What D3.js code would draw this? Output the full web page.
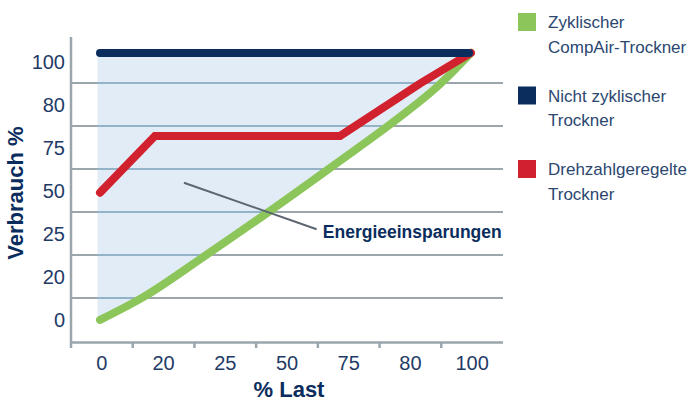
<!DOCTYPE html>
<html>
<head>
<meta charset="utf-8">
<script src="https://cdn.jsdelivr.net/npm/d3@7"></script>
<style>
  body { margin: 0; background: #fff; }
  text { font-family: "Liberation Sans", Arial, sans-serif; }
</style>
</head>
<body>
<div id="chart"></div>
<script>
// Achsenbeschriftungen (Kategorien)
const xLabels = ['0', '20', '25', '50', '75', '80', '100'];
const yLabels = ['0', '20', '25', '50', '75', '80', '100'];

// Kurven in Achseneinheiten (0..7 über die 7 Felder)
const greenX = [0.47, 1.17, 2.14, 3.18, 4.31, 5.33, 5.93, 6.48];
const greenY = [0.49, 1.02, 1.95, 2.98, 4.14, 5.21, 5.91, 6.70];
const redX = [0.47, 1.36, 4.36, 5.66, 6.48];
const redY = [3.45, 4.77, 4.77, 5.99, 6.70];
const navyX = [0.47, 6.45];
const navyY = [6.70, 6.70];

const legendItems = [
    {name: ['Zyklischer', 'CompAir-Trockner'], color: '#8cc65b'},
    {name: ['Nicht zyklischer', 'Trockner'], color: '#0b2d5e'},
    {name: ['Drehzahlgeregelte', 'Trockner'], color: '#d2212e'}
];

let width = 697;
let height = 401;
let textColor = '#1f3b66';
let gridColor = '#9ba5ac';

let svg = d3.select('#chart').append('svg')
    .attr('width', width)
    .attr('height', height);

const xBand = d3.scaleBand().domain(xLabels).range([71, 503]);
const yBand = d3.scaleBand().domain(yLabels).range([341, 40]);
const x = d3.scaleLinear().domain([0, 7]).range([71, 503]);
const y = d3.scaleLinear().domain([0, 7]).range([341, 40]);

const zip = (xs, ys) => xs.map((v, i) => [v, ys[i]]);
let green = zip(greenX, greenY);
let red = zip(redX, redY);
let navy = zip(navyX, navyY);

// Fläche Energieeinsparung
let area = d3.area()
    .x(d => x(d[0]))
    .y0(d => y(d[1]))
    .y1(y(navyY[0]))
    .curve(d3.curveMonotoneX);

let areaData = [[0.43, greenY[0]]].concat(green);

svg.append('defs').append('clipPath')
    .attr('id', 'savingClip')
    .append('path')
    .attr('d', area(areaData));

svg.append('path')
    .attr('d', area(areaData))
    .attr('fill', '#e2ecf7');

// Gitterlinien
let gridLines = yLabels.slice(1);
svg.append('g')
    .selectAll('line')
    .data(gridLines)
    .enter()
    .append('line')
    .attr('x1', 71)
    .attr('x2', 503)
    .attr('y1', d => yBand(d) + yBand.bandwidth())
    .attr('y2', d => yBand(d) + yBand.bandwidth())
    .style('stroke', gridColor)
    .style('stroke-width', 2);

svg.append('g')
    .attr('clip-path', 'url(#savingClip)')
    .selectAll('line')
    .data(gridLines)
    .enter()
    .append('line')
    .attr('x1', 71)
    .attr('x2', 503)
    .attr('y1', d => yBand(d) + yBand.bandwidth())
    .attr('y2', d => yBand(d) + yBand.bandwidth())
    .style('stroke', '#93b3c8')
    .style('stroke-width', 2);

// Achsen
svg.append('line')
    .attr('x1', x(0)).attr('x2', x(0))
    .attr('y1', 37).attr('y2', y(0) + 7)
    .style('stroke', gridColor).style('stroke-width', 2.5);

svg.append('line')
    .attr('x1', x(0)).attr('x2', 503)
    .attr('y1', y(0) + 1.5).attr('y2', y(0) + 1.5)
    .style('stroke', gridColor).style('stroke-width', 2.5);

svg.append('g')
    .selectAll('line')
    .data(xLabels.slice(1))
    .enter()
    .append('line')
    .attr('x1', d => xBand(d))
    .attr('x2', d => xBand(d))
    .attr('y1', y(0) + 1.5)
    .attr('y2', y(0) + 7)
    .style('stroke', gridColor)
    .style('stroke-width', 2.5);

// Tick-Beschriftungen
svg.append('g')
    .selectAll('text')
    .data(xLabels)
    .enter()
    .append('text')
    .attr('x', d => xBand(d) + xBand.bandwidth() / 2)
    .attr('y', 370)
    .attr('text-anchor', 'middle')
    .style('font-size', '20px')
    .style('fill', textColor)
    .text(d => d);

svg.append('g')
    .selectAll('text')
    .data(yLabels)
    .enter()
    .append('text')
    .attr('x', 65)
    .attr('y', d => yBand(d) + yBand.bandwidth() / 2 + 7)
    .attr('text-anchor', 'end')
    .style('font-size', '20px')
    .style('fill', textColor)
    .text(d => d);

// Achsentitel
svg.append('text')
    .attr('transform', 'translate(23,193) rotate(-90)')
    .attr('text-anchor', 'middle')
    .style('font-size', '22px')
    .style('font-weight', 'bold')
    .style('fill', '#0b2d5e')
    .text('Verbrauch %');

svg.append('text')
    .attr('x', 289)
    .attr('y', 397)
    .attr('text-anchor', 'middle')
    .style('font-size', '22px')
    .style('font-weight', 'bold')
    .style('fill', '#0b2d5e')
    .text('% Last');

// Linien
let line = d3.line().x(d => x(d[0])).y(d => y(d[1]));

svg.append('path')
    .attr('d', d3.line().x(d => x(d[0])).y(d => y(d[1])).curve(d3.curveMonotoneX)(green))
    .attr('fill', 'none')
    .style('stroke', legendItems[0].color)
    .style('stroke-width', 8)
    .style('stroke-linecap', 'round');

svg.append('path')
    .attr('d', line(red))
    .attr('fill', 'none')
    .style('stroke', legendItems[2].color)
    .style('stroke-width', 8)
    .style('stroke-linecap', 'round');

svg.append('path')
    .attr('d', line(navy))
    .attr('fill', 'none')
    .style('stroke', legendItems[1].color)
    .style('stroke-width', 8)
    .style('stroke-linecap', 'round');

// Annotation
svg.append('line')
    .attr('x1', x(1.83)).attr('y1', y(3.68))
    .attr('x2', x(3.98)).attr('y2', y(2.6))
    .style('stroke', '#5b6670')
    .style('stroke-width', 2);

svg.append('text')
    .attr('x', x(4.08))
    .attr('y', y(2.40))
    .style('font-size', '17.5px')
    .style('font-weight', 'bold')
    .style('fill', '#0b2d5e')
    .text('Energieeinsparungen');

// Legende
let legend = svg.append('g')
    .selectAll('g')
    .data(legendItems)
    .enter()
    .append('g')
    .attr('transform', (d, i) => 'translate(518,' + (13 + i * 73.5) + ')');

legend.append('rect')
    .attr('width', 18)
    .attr('height', 18)
    .attr('fill', d => d.color);

legend.append('text')
    .attr('x', 30)
    .attr('y', 15)
    .style('font-size', '17px')
    .style('fill', '#2b4770')
    .selectAll('tspan')
    .data(d => d.name)
    .enter()
    .append('tspan')
    .attr('x', 30)
    .attr('dy', (d, i) => i === 0 ? 0 : 24.5)
    .text(d => d);
</script>
</body>
</html>
